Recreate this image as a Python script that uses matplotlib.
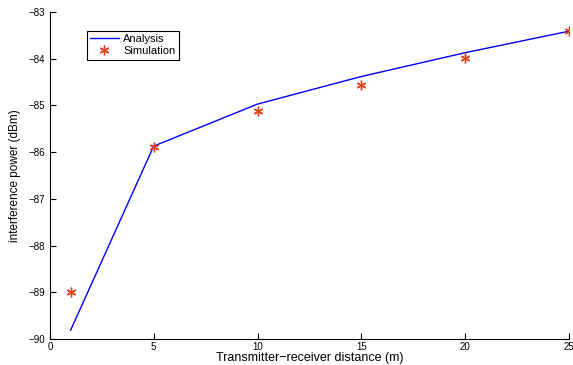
import matplotlib
matplotlib.use("Agg")
import matplotlib.pyplot as plt

distance = [1, 5, 10, 15, 20, 25]
analysis = [-89.81, -85.87, -84.97, -84.38, -83.87, -83.41]
simulation = [-89.0, -85.88, -85.12, -84.57, -83.98, -83.41]

plt.rcParams['font.family'] = ['Liberation Sans', 'DejaVu Sans']

fig = plt.figure(figsize=(5.73, 3.65), dpi=100)
ax = fig.add_axes([0.087, 0.071, 0.906, 0.896])

ax.plot(distance, analysis, color='blue', linewidth=1, label='Analysis')
ax.plot(distance, simulation, linestyle='none', marker=(6, 2, 0), markersize=7,
        markeredgecolor='#e8401c', markeredgewidth=1, label='Simulation')

ax.set_xlim(0, 25)
ax.set_ylim(-90, -83)
ax.set_xticks([0, 5, 10, 15, 20, 25])
ax.set_yticks(range(-90, -82))
ax.tick_params(direction='in', labelsize=7, length=4, width=0.8)
ax.tick_params(axis='x', pad=2)
ax.spines['top'].set_visible(False)
ax.spines['right'].set_visible(False)
ax.set_xlabel('Transmitter\u2212receiver distance (m)', fontsize=9, labelpad=0)
ax.set_ylabel('interference power (dBm)', fontsize=8.5, labelpad=5)

leg = ax.legend(loc='upper left', bbox_to_anchor=(0.06, 0.96), fontsize=8,
                fancybox=False, framealpha=1, edgecolor='black',
                borderpad=0.3, labelspacing=0.2, handlelength=2.6, handletextpad=0.4)
leg.get_frame().set_linewidth(0.8)

fig.savefig('out.png', dpi=100)
